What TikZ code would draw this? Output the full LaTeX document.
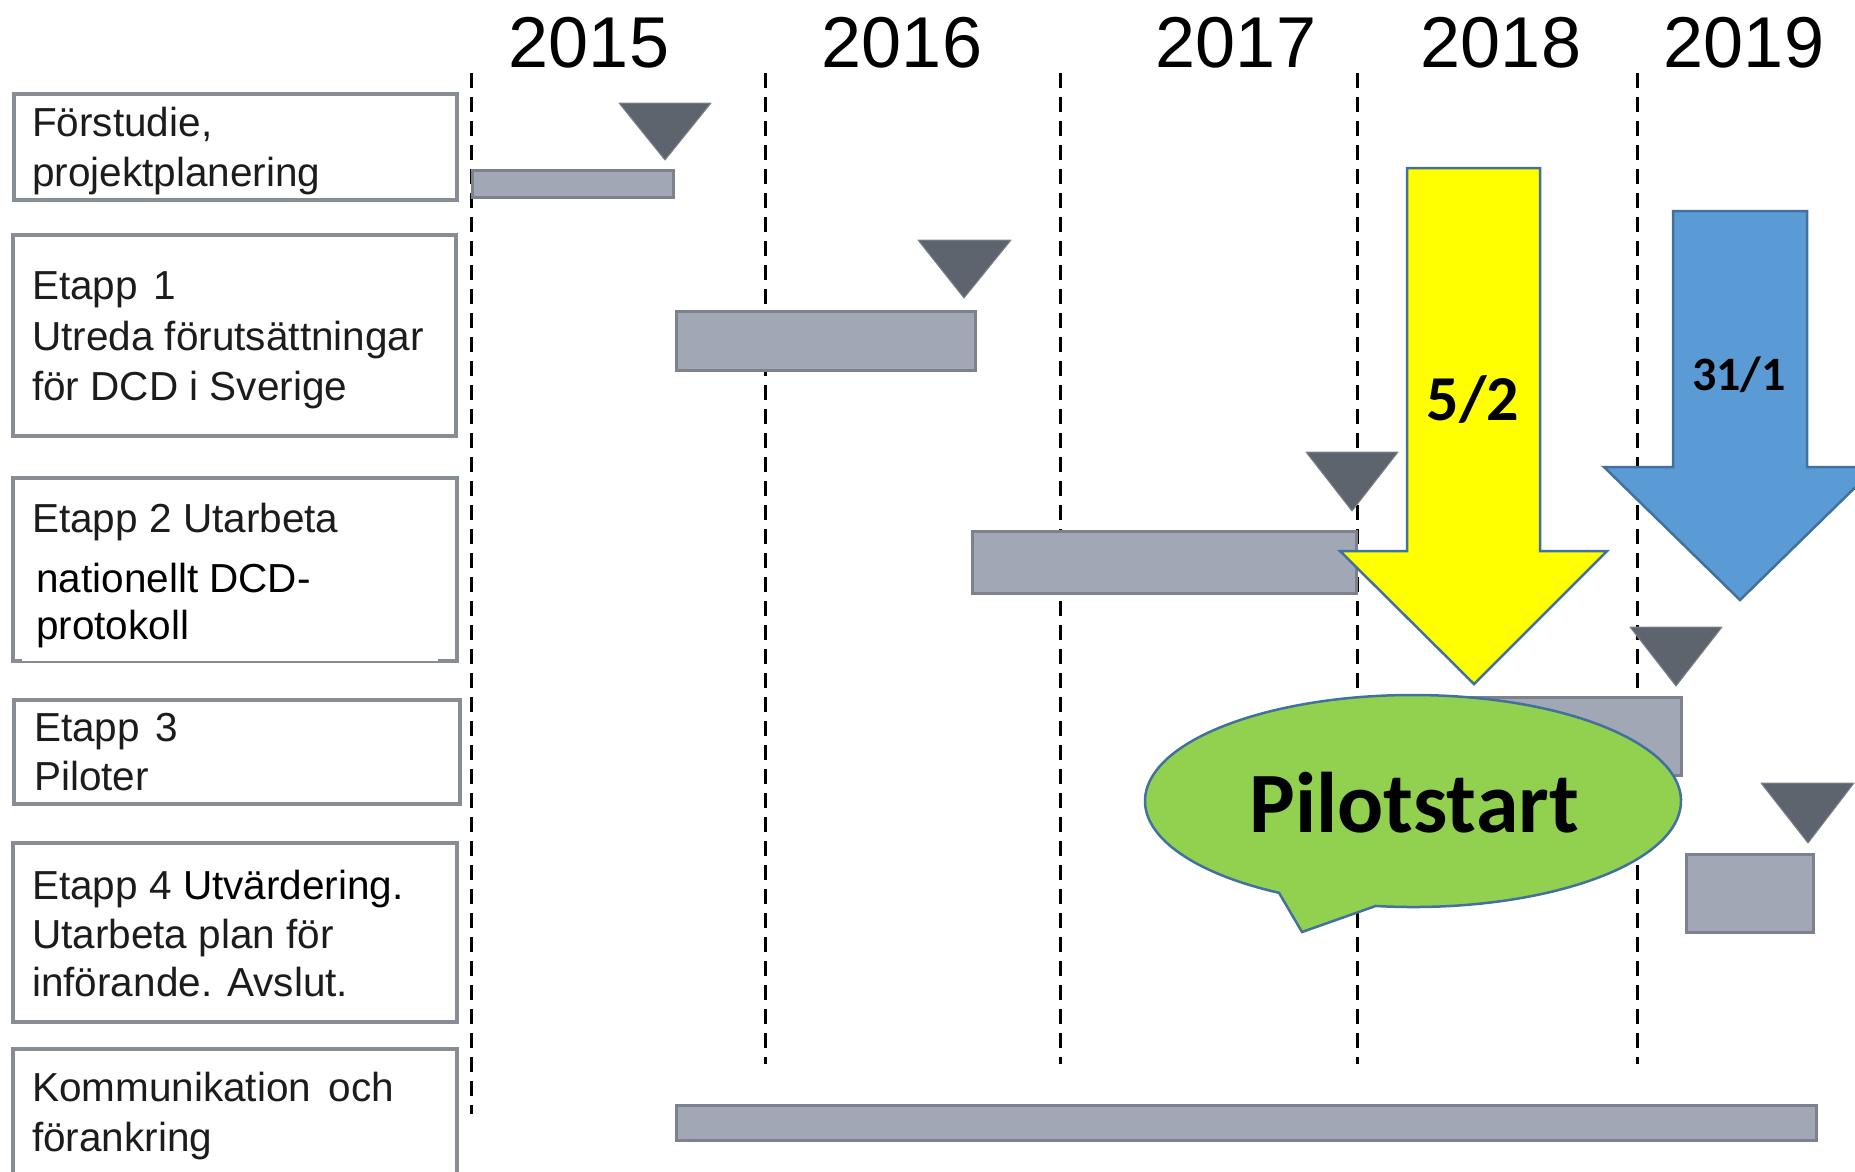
\documentclass[tikz,border=0pt]{standalone}
\usepackage{fontspec}
\setmainfont{Liberation Sans}
\newfontfamily\calib{Carlito}
\definecolor{boxgray}{HTML}{888C95}
\definecolor{barfill}{HTML}{A1A7B4}
\definecolor{bardark}{HTML}{7C818B}
\definecolor{msgray}{HTML}{5E646E}
\definecolor{txt}{HTML}{1C1C1C}
\definecolor{arrowyel}{HTML}{FFFF00}
\definecolor{arrowblue}{HTML}{5B9BD5}
\definecolor{edgeblue}{HTML}{41719C}
\definecolor{bubble}{HTML}{92D050}
\begin{document}
\begin{tikzpicture}[x=1pt,y=-1pt,
  lbox/.style={draw=boxgray, line width=4pt, fill=white, anchor=north west, inner sep=0pt},
  ltext/.style={anchor=base west, inner sep=0pt, font=\fontsize{40.5}{50}\selectfont, text=txt},
  year/.style={anchor=base, inner sep=0pt, font=\fontsize{72}{80}\selectfont},
  gantt/.style={draw=bardark, fill=barfill, line width=3pt, anchor=north west, inner sep=0pt},
  ms/.style={fill=msgray, draw=msgray!80, line width=1pt, line join=round},
  grid/.style={dash pattern=on 15pt off 9pt, line width=3pt, black},
  bigarrow/.style={draw=edgeblue, line width=2.5pt, line join=miter},
  albl/.style={anchor=base, inner sep=0pt, font=\calib\bfseries}
]
\useasboundingbox (0,0) rectangle (1855,1171);
\clip (0,0) rectangle (1855,1171);

% year labels
\node[year] (y15) at (589,67) {2015};
\node[year] (y16) at (902,67) {2016};
\node[year] (y17) at (1236,67) {2017};
\node[year] (y18) at (1501,67) {2018};
\node[year] (y19) at (1744,67) {2019};

% dashed year separators
\draw[grid] (471,73) -- (471,1114);
\draw[grid] (765,73) -- (765,1064);
\draw[grid] (1060,73) -- (1060,1064);
\draw[grid] (1357,73) -- (1357,1064);
\draw[grid] (1637,73) -- (1637,1064);

% left boxes
\node[lbox, minimum width=443, minimum height=106] (b1) at (12,92) {};
\node[lbox, minimum width=443, minimum height=201] (b2) at (11,233) {};
\node[lbox, minimum width=444, minimum height=183] (b3) at (11,476) {};
\draw[white, line width=4.5pt] (22,659) -- (438,659);
\node[lbox, minimum width=446, minimum height=104] (b4) at (12,698) {};
\node[lbox, minimum width=444, minimum height=179] (b5) at (11,841) {};
\node[lbox, minimum width=444, minimum height=150] (b6) at (11,1047) {};

% box texts
\node[ltext] (t1a) at (32,136) {Förstudie,};
\node[ltext] (t1b) at (32,186) {projektplanering};
\node[ltext] (t2a) at (32,299) {Etapp\hspace{4pt} 1};
\node[ltext] (t2b) at (32,350) {Utreda förutsättningar};
\node[ltext] (t2c) at (32,400) {för DCD i Sverige};
\node[ltext] (t3a) at (32,532) {Etapp 2 Utarbeta};
\node[ltext, text=black] (t3b) at (36,592) {nationellt DCD-};
\node[ltext, text=black] (t3c) at (36,639) {protokoll};
\node[ltext] (t4a) at (34,741) {Etapp\hspace{4pt} 3};
\node[ltext] (t4b) at (34,790) {Piloter};
\node[ltext] (t5a) at (32,899) {Etapp 4 \textcolor{black}{Utvärdering.}};
\node[ltext] (t5b) at (32,948) {Utarbeta plan för};
\node[ltext] (t5c) at (32,996) {införande. Avslut.};
\node[ltext] (t6a) at (32,1101) {Kommunikation\hspace{6pt} och};
\node[ltext] (t6b) at (32,1151) {förankring};

% gantt bars
\node[gantt, minimum width=201, minimum height=27] (g1) at (471,169) {};
\node[gantt, minimum width=299, minimum height=59] (g2) at (675,310) {};
\node[gantt, minimum width=384, minimum height=62] (g3) at (971,530) {};
\node[gantt, minimum width=323, minimum height=78] (g4) at (1357,696) {};
\node[gantt, minimum width=127, minimum height=78] (g5) at (1685,853) {};
\node[gantt, minimum width=1140, minimum height=35] (g6) at (675,1104) {};

% milestones
\filldraw[ms] (619,103) -- (711,103) -- (665,160) -- cycle;
\filldraw[ms] (918,240) -- (1011,240) -- (964,298) -- cycle;
\filldraw[ms] (1306,452) -- (1398,452) -- (1352,511) -- cycle;
\filldraw[ms] (1630,627) -- (1722,627) -- (1676,686) -- cycle;
\filldraw[ms] (1761,783) -- (1854,783) -- (1808,843) -- cycle;

% big arrows
\filldraw[bigarrow, fill=arrowyel] (1407,168) -- (1540,168) -- (1540,551) -- (1607,551)
   -- (1474,684) -- (1340,551) -- (1407,551) -- cycle;
\node[albl, font=\calib\bfseries\fontsize{64}{70}\selectfont] (d52) at (1473,420) {5/2};
\filldraw[bigarrow, fill=arrowblue] (1673,211) -- (1807,211) -- (1807,467) -- (1876,467)
   -- (1740,600) -- (1604,467) -- (1673,467) -- cycle;
\node[albl, font=\calib\bfseries\fontsize{48}{54}\selectfont] (d311) at (1739,390) {31/1};

% callout
\filldraw[draw=edgeblue, line width=2.5pt, fill=bubble, line join=miter]
  (1413,801) ++(98:268 and 106) arc[start angle=98, end angle=-240, x radius=268, y radius=106]
  -- (1302,932) -- cycle;
\node[albl, font=\calib\bfseries\fontsize{86}{90}\selectfont] (pilot) at (1414,832) {Pilotstart};
\end{tikzpicture}
\end{document}
